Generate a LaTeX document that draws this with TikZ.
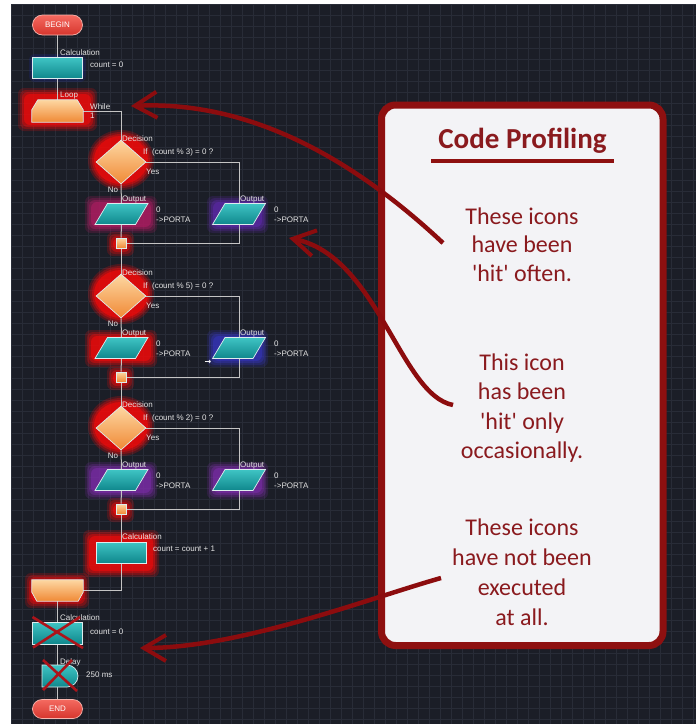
\documentclass[tikz,border=0pt]{standalone}
\usepackage{fontspec}
\setmainfont{Liberation Sans}
\newfontfamily\calloutfont{Carlito}
\newfontfamily\symbolfont{DejaVu Sans}
\usetikzlibrary{shapes.geometric,shapes.misc,arrows.meta,calc}

\definecolor{bgdark}{HTML}{1B1E27}
\definecolor{gridminor}{HTML}{282C37}
\definecolor{linegray}{HTML}{C4C4C4}
\definecolor{labelgray}{HTML}{E4E4E4}
\definecolor{edgelight}{HTML}{DDEDEE}
\definecolor{tealtop}{HTML}{3FC4C4}
\definecolor{tealbot}{HTML}{0F878C}
\definecolor{orangetop}{HTML}{FDD7A2}
\definecolor{orangebot}{HTML}{F08935}
\definecolor{pilltop}{HTML}{F46A60}
\definecolor{pillbot}{HTML}{D6352D}
\definecolor{pilledge}{HTML}{F7B6AE}
\definecolor{glowred}{HTML}{F20A0A}
\definecolor{glowblue}{HTML}{1E2CA8}
\definecolor{glowindigo}{HTML}{3434B8}
\definecolor{glowpurple}{HTML}{7A2CA6}
\definecolor{glowviolet}{HTML}{5C28A8}
\definecolor{glowmagenta}{HTML}{B01C62}
\definecolor{crossred}{HTML}{AC141A}
\definecolor{callred}{HTML}{8E1010}
\definecolor{calltext}{HTML}{8A1A1E}
\definecolor{callfill}{HTML}{F3F3F6}
\definecolor{arrowred}{HTML}{8C0C0E}

\pgfdeclarelayer{gridlayer}
\pgfdeclarelayer{glowlayer}
\pgfdeclarelayer{wirelayer}
\pgfsetlayers{gridlayer,glowlayer,wirelayer,main}

% soft halo behind a flowchart icon: x1, y1, x2, y2 of the outer edge
\newcommand\glowrect[5]{%
  \foreach \gsh/\gop in {0/0.2,2/0.28,4/0.4,6/0.6}{%
    \fill[#1, opacity=\gop, rounded corners=6pt]
      ({#2+\gsh},{#3+\gsh}) rectangle ({#4-\gsh},{#5-\gsh});
  }%
}
% soft round halo: centre and radii
\newcommand\glowblob[5]{%
  \foreach \gsh/\gop in {0/0.22,2/0.3,4/0.42,6/0.65}{%
    \fill[#1, opacity=\gop] (#2,#3) ellipse [x radius={(#4-\gsh)*1pt}, y radius={(#5-\gsh)*1pt}];
  }%
}

\tikzset{
  lbl/.style={text=labelgray, font=\fontsize{8}{9}\selectfont, inner sep=0pt, anchor=west},
  wire/.style={draw=linegray, line width=1pt},
  shapeedge/.style={draw=edgelight, line width=0.7pt},
  tealfill/.style={top color=tealtop, bottom color=tealbot},
  orangefill/.style={top color=orangetop, bottom color=orangebot},
  calcbox/.style={rectangle, shapeedge, tealfill, minimum width=50pt, minimum height=21pt, inner sep=0pt},
  iobox/.style={trapezium, trapezium left angle=66, trapezium right angle=114, trapezium stretches=true,
    shapeedge, tealfill, minimum width=53pt, minimum height=21pt, inner sep=1pt},
  loopframe/.style={rectangle, minimum width=51pt, minimum height=22pt, inner sep=0pt},
  decide/.style={diamond, shapeedge, orangefill, minimum width=50pt, minimum height=44pt, inner sep=1pt},
  joint/.style={rectangle, shapeedge, orangefill, minimum size=10pt, inner sep=0pt},
  terminal/.style={rounded rectangle, draw=pilledge, line width=0.7pt, top color=pilltop, bottom color=pillbot,
    minimum width=50pt, minimum height=20pt, inner sep=0pt, text=white, font=\fontsize{8}{9}\selectfont},
  waitbox/.style={rounded rectangle, rounded rectangle left arc=none, shapeedge, tealfill,
    minimum width=36pt, minimum height=22pt, inner sep=0pt},
  strike/.style={draw=crossred, line width=2.6pt},
  pointer/.style={draw=arrowred, line width=4.5pt,
    -{Straight Barb[length=22pt,width=26pt,line width=4pt]}},
  calltxt/.style={text=calltext, font=\calloutfont\fontsize{24}{29}\selectfont, inner sep=0pt, anchor=base},
}

\begin{document}
\begin{tikzpicture}[x=1pt,y=-1pt]
\useasboundingbox (0,0) rectangle (696,724);

% dark canvas with its grid
\begin{pgfonlayer}{gridlayer}
  \fill[white] (0,0) rectangle (696,724);
  \fill[bgdark] (11,4) rectangle (696,724);
  \foreach \gx in {11,22,...,696} \draw[gridminor, line width=0.6pt] (\gx,4) -- (\gx,724);
  \foreach \gy in {4,15,...,724} \draw[gridminor, line width=0.6pt] (11,\gy) -- (696,\gy);
\end{pgfonlayer}

% ---- main column
\node[terminal] (begin) at (57.5,25) {BEGIN};
\node[calcbox] (calc1) at (57.5,68) {};
\node[lbl] (calc1name) at (60,52.5) {Calculation};
\node[lbl] (calc1expr) at (90,65) {count = 0};

% loop start: top corners cut off
\node[loopframe] (loop) at (57.5,111) {};
\shadedraw[orangefill, shapeedge] (loop.south west) -- ($(loop.north west)+(0,10)$)
  -- ($(loop.north west)+(6,0)$) -- ($(loop.north east)+(-6,0)$)
  -- ($(loop.north east)+(0,10)$) -- (loop.south east) -- cycle;
\node[lbl] (loopname) at (60,96) {Loop};
\node[lbl] (loopwhile) at (90,107) {While};
\node[lbl] (loopcond) at (90,116) {1};

% ---- three decision blocks in the loop body
\foreach \i/\cy/\md/\lg/\rg in {1/162/3/glowmagenta/glowviolet, 2/296/5/glowred/glowindigo, 3/428/2/glowpurple/glowpurple}{
  \node[decide] (dec\i) at (121,\cy) {};
  \node[lbl] (dec\i name) at (122,{\cy-23}) {Decision};
  \node[lbl] (dec\i cond) at (143,{\cy-10}) {If~~(count \% \md) = 0 ?};
  \node[lbl] (dec\i yes) at (146,{\cy+10}) {Yes};
  \node[lbl, anchor=center] (dec\i no) at (113,{\cy+28}) {No};

  \node[iobox] (out\i L) at (121.5,{\cy+52}) {};
  \node[lbl] (out\i Lname) at (122,{\cy+38}) {Output};
  \node[lbl] (out\i Lval) at (156,{\cy+48}) {0};
  \node[lbl] (out\i Lport) at (156,{\cy+58}) {->PORTA};

  \node[iobox] (out\i R) at (239,{\cy+52}) {};
  \node[lbl] (out\i Rname) at (240,{\cy+38}) {Output};
  \node[lbl] (out\i Rval) at (274,{\cy+48}) {0};
  \node[lbl] (out\i Rport) at (274,{\cy+58}) {->PORTA};

  \node[joint] (j\i) at (121,{\cy+81}) {};

  \begin{pgfonlayer}{glowlayer}
    \glowblob{glowred}{121}{\cy-2}{33}{30}
    \glowrect{\lg}{85}{\cy+34}{157}{\cy+71}
    \glowrect{\rg}{207}{\cy+34}{268}{\cy+71}
    \glowrect{glowred}{107}{\cy+70}{134}{\cy+94}
  \end{pgfonlayer}
  \begin{pgfonlayer}{wirelayer}
    \draw[wire] (dec\i.south) -- (out\i L.north);
    \draw[wire] (dec\i.east) -| (out\i R.north);
    \draw[wire] (out\i L.south) -- (j\i.north);
    \draw[wire] (out\i R.south) |- (j\i.east);
  \end{pgfonlayer}
}
\node[text=white, inner sep=0pt, font=\symbolfont\bfseries\fontsize{8}{8}\selectfont] (cursor) at (208,362.5) {→};

\node[calcbox] (calc2) at (121,552.5) {};
\node[lbl] (calc2name) at (122,537) {Calculation};
\node[lbl] (calc2expr) at (153,549) {count = count + 1};

% loop end: bottom corners cut off
\node[loopframe, minimum height=21pt] (loopend) at (57.5,590.5) {};
\shadedraw[orangefill, shapeedge] (loopend.north west) -- ($(loopend.south west)+(0,-9)$)
  -- ($(loopend.south west)+(5,0)$) -- ($(loopend.south east)+(-5,0)$)
  -- ($(loopend.south east)+(0,-9)$) -- (loopend.north east) -- cycle;

% ---- after the loop
\node[calcbox, minimum height=22pt] (calc3) at (57.5,633) {};
\node[lbl] (calc3name) at (60,618) {Calculation};
\node[lbl] (calc3expr) at (90,632) {count = 0};

\node[waitbox] (delay) at (60,676) {};
\node[lbl] (delayname) at (60,662) {Delay};
\node[lbl] (delaytime) at (86,675) {250 ms};

\node[terminal, minimum height=19pt] (end) at (57.5,709) {END};

% never-executed icons are struck through
\draw[strike] ($(calc3.center)+(-25,-16)$) -- ($(calc3.center)+(25.5,15)$);
\draw[strike] ($(calc3.center)+(22.5,-16)$) -- ($(calc3.center)+(-24.5,14.5)$);
\draw[strike] ($(delay.center)+(-17,-16)$) -- ($(delay.center)+(17,15)$);
\draw[strike] ($(delay.center)+(12,-16)$) -- ($(delay.center)+(-17,14)$);

\begin{pgfonlayer}{glowlayer}
  \glowrect{glowblue}{29}{54}{86}{82}
  \glowrect{glowred}{18}{88}{97}{131}
  \glowrect{glowred}{83}{530}{159}{577}
  \glowrect{glowred}{25}{573}{89}{608}
\end{pgfonlayer}

\begin{pgfonlayer}{wirelayer}
  \draw[wire] (begin.south) -- (calc1.north);
  \draw[wire] (calc1.south) -- (loop.north);
  \draw[wire] (loop.east) -| (dec1.north);
  \draw[wire] (j1.south) -- (dec2.north);
  \draw[wire] (j2.south) -- (dec3.north);
  \draw[wire] (j3.south) -- (calc2.north);
  \draw[wire] (calc2.south) |- (loopend.east);
  \draw[wire] (loopend.south) -- (calc3.north);
  \draw[wire] (calc3.south) -- (calc3.south |- delay.north);
  \draw[wire] (delay.south -| end.north) -- (end.north);
\end{pgfonlayer}

% ---- profiling legend
\node[draw=callred, line width=7pt, fill=callfill, rounded corners=14pt,
      minimum width=281.5pt, minimum height=540.5pt, inner sep=0pt] (panel) at (522.25,375.25) {};
\node[text=calltext, inner sep=0pt, anchor=base, font=\calloutfont\bfseries\fontsize{29}{34}\selectfont]
  (title) at (522.5,148) {Code Profiling};
\draw[callred, line width=4pt] (431,161) -- (614,161);

\node[calltxt] (oftenA) at (522,224) {These icons};
\node[calltxt] (oftenB) at (522,252.5) {have been};
\node[calltxt] (oftenC) at (522,281) {'hit' often.};

\node[calltxt] (rareA) at (522,370) {This icon};
\node[calltxt] (rareB) at (522,399.5) {has been};
\node[calltxt] (rareC) at (522,429) {'hit' only};
\node[calltxt] (rareD) at (522,458.5) {occasionally.};

\node[calltxt] (neverA) at (522,535) {These icons};
\node[calltxt] (neverB) at (522,565) {have not been};
\node[calltxt] (neverC) at (522,595) {executed};
\node[calltxt] (neverD) at (522,625) {at all.};

% ---- pointers from the legend to the icons
\coordinate (tailA) at (443,243);
\coordinate (tipA) at (131,106);
\coordinate (tailB) at (453,405);
\coordinate (tipB) at (289,238);
\coordinate (tailC) at (441,578);
\coordinate (tipC) at (140,648);
\draw[pointer] (tailA) .. controls (365,170) and (260,100) .. (tipA);
\draw[pointer] (tailB) .. controls (400,395) and (378,256) .. (tipB);
\draw[pointer] (tailC) .. controls (370,598) and (240,648) .. (tipC);
\end{tikzpicture}
\end{document}
